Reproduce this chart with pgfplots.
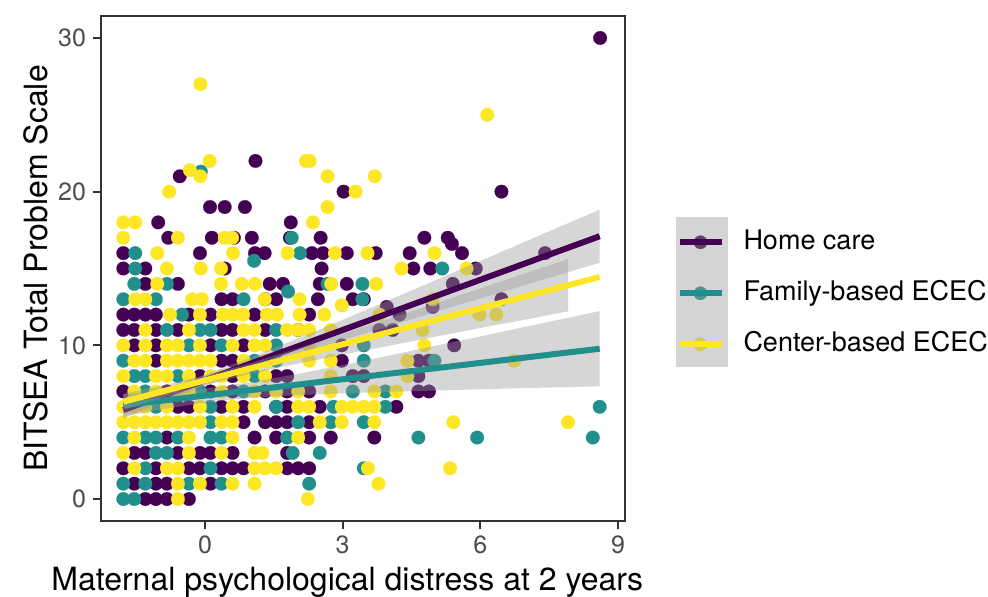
\documentclass[border=0pt]{standalone}
\usepackage{fontspec}
\setmainfont{TeX Gyre Heros}
\usepackage{pgfplots}
\pgfplotsset{compat=1.18}
\definecolor{hc}{HTML}{440154}
\definecolor{fb}{HTML}{21908C}
\definecolor{cb}{HTML}{FDE725}
\definecolor{hcl}{HTML}{663E70}
\definecolor{fbl}{HTML}{519491}
\definecolor{cbl}{HTML}{D5C853}
\definecolor{grey20}{HTML}{333333}
\definecolor{grey30}{HTML}{4D4D4D}
\definecolor{keybg}{HTML}{D4D4D4}
\definecolor{band}{HTML}{999999}
\begin{document}
\begin{tikzpicture}
\begin{axis}[
  scale only axis, width=262pt, height=252.5pt,
  xmin=-2.266, xmax=9.152, ymin=-1.43, ymax=31.43,
  xtick={0,3,6,9}, ytick={0,10,20,30},
  xtick pos=left, ytick pos=left,
  tick align=outside, major tick length=4pt,
  tick style={color=grey20, line width=0.9pt},
  axis line style={grey20, line width=0.9pt},
  ticklabel style={font=\fontsize{12.5}{14}\selectfont, text=grey30},
  /pgf/number format/assume math mode=true,
  xlabel={Maternal psychological distress at 2 years},
  ylabel={BITSEA Total Problem Scale},
  every axis x label/.style={at={(axis description cs:0.47,-0.137)}, anchor=base, font=\fontsize{16}{19}\selectfont},
  every axis y label/.style={at={(axis description cs:-0.101,0.5)}, rotate=90, anchor=south, inner sep=0pt, font=\fontsize{16}{19}\selectfont},
  clip=false,
  clip marker paths=true,
  legend style={at={(axis description cs:1.0975,0.451)}, anchor=west, draw=none, fill=none,
    inner sep=0pt, row sep=13.5pt, column sep=9.5pt, font=\fontsize{13.5}{16}\selectfont,
    nodes={inner sep=0pt, text height=9.5pt, text depth=2.5pt}},
  legend cell align=left,
]
% legend key background
\fill[keybg] (axis description cs:1.0973,0.305) rectangle (axis description cs:1.1966,0.602);

% Home care points
\addplot[only marks, mark=*, mark size=3.4pt, mark options={fill=hc, draw=hc, line width=0.1pt}, forget plot] coordinates {
(-1.30,0)(-1.07,0)(-0.83,0)(-0.35,0)
(-1.54,1)(-1.07,1)(-0.83,1)(0.12,1)
(-1.78,2)(-1.07,2)(-0.35,2)(-0.11,2)(0.36,2)(0.60,2)(0.84,2)(1.79,2)(2.03,2)(2.27,2)
(-1.54,3)(-1.30,3)(-0.59,3)(-0.11,3)(0.12,3)(0.60,3)(1.79,3)
(-0.83,4)(1.08,4)(1.55,4)(2.27,4)(2.74,4)(3.69,4)
(0.84,5)(1.31,5)(1.55,5)(1.79,5)(2.27,5)
(-0.59,6)(-0.35,6)(0.36,6)(0.84,6)(1.55,6)(1.79,6)(2.50,6)(4.17,6)
(-1.78,7)(-0.83,7)(0.12,7)(0.60,7)(1.31,7)(1.79,7)(2.27,7)(4.65,7)(4.88,7)
(-0.11,8)(0.60,8)(1.55,8)(1.79,8)(3.22,8)(3.46,8)(4.65,8)
(-1.07,9)(0.36,9)(0.60,9)(2.98,9)(4.65,9)(4.88,9)
(-1.54,10)(-1.07,10)(0.12,10)(0.84,10)(2.98,10)(5.43,10)
(-1.78,11)(-1.54,11)(-1.07,11)(-0.59,11)(0.36,11)(0.60,11)(1.31,11)(2.03,11)(3.80,11)(4.09,11)
(-1.78,12)(-1.54,12)(-1.30,12)(-1.07,12)(-0.35,12)(0.12,12)(1.08,12)(2.27,12)(4.24,12)(3.96,12.5)(4.96,12.5)
(0.36,13)(0.60,13)(1.31,13)(1.55,13)(2.46,13)(3.22,13)(3.46,13)(6.46,13)
(-1.30,14)(-0.59,14)(1.41,14)(1.70,14)(2.50,14)(3.09,14)(5.40,14)
(-1.78,15)(-1.30,15)(0.43,15)(2.54,15)(4.54,15)(4.91,15)(5.90,15)
(-1.78,16)(-0.11,16)(1.09,16)(1.30,16)(2.33,16)(2.57,16)(3.09,16)(3.72,16)(4.46,16)(5.60,16)(7.41,16)
(5.38,16.6)
(-0.80,17)(0.15,17)(0.63,17)(1.02,17)(1.85,17)(2.52,17)(4.78,17)(5.29,17)
(-1.02,18)(1.87,18)
(0.11,19)(0.43,19)(0.87,19)
(3.02,20)(6.46,20)
(-0.55,21)
(1.10,22)
(8.61,30)
};
% Family-based points
\addplot[only marks, mark=*, mark size=3.4pt, mark options={fill=fb, draw=fb, line width=0.1pt}, forget plot] coordinates {
(-1.78,0)(-1.54,0)
(-1.78,1)(-1.30,1)(-0.35,1)(0.36,1)(2.27,1)
(-1.30,2)(0.12,2)(3.46,2)
(-1.07,3)(-0.83,3)(1.91,3)(2.50,3)
(-1.78,4)(-1.30,4)(-1.07,4)(-0.59,4)(0.12,4)(0.36,4)(1.79,4)(4.65,4)(5.93,4)(8.45,4)
(0.12,5)(2.03,5)(2.74,5)(3.46,5)
(-1.07,6)(0.12,6)(1.55,6)(2.80,6)(3.93,6)(8.60,6)
(-1.30,7)(-0.11,7)(0.84,7)(3.22,7)(3.93,7)
(-1.54,8)(-1.30,8)(-0.59,8)(1.08,8)
(-1.78,9)(1.08,9)(1.55,9)(3.46,9)(5.00,9)
(-0.35,10)(0.36,10)(1.55,10)(3.46,10)
(-0.83,11)(-0.11,11)(0.12,11)(1.55,11)
(-0.50,12)
(-1.78,13)(-1.07,13)(0.84,13)(3.43,13)
(1.81,13.5)
(-1.54,14)(-0.83,14)(2.67,14)(3.43,14)
(-1.52,15)(5.17,15)
(1.07,15.5)
(-1.52,16)(2.07,16)
(1.89,17)
(-0.09,21.3)
};
% Center-based points
\addplot[only marks, mark=*, mark size=3.4pt, mark options={fill=cb, draw=cb, line width=0.1pt}, forget plot] coordinates {
(-0.59,0)(2.24,0)
(-0.59,1)(-0.11,1)(0.60,1)(1.08,1)(3.78,1)
(-1.54,2)(-0.83,2)(-0.59,2)(1.08,2)(1.31,2)(1.55,2)(3.55,2)(5.34,2)
(-1.78,3)(-0.35,3)(0.36,3)(1.08,3)(1.25,3)
(-1.54,4)(-0.35,4)(0.60,4)(2.03,4)
(-1.78,5)(-1.54,5)(-1.30,5)(-1.07,5)(-0.83,5)(-0.59,5)(-0.35,5)(-0.11,5)(0.36,5)(0.60,5)(2.50,5)(2.98,5)(3.69,5)(5.41,5)(7.91,5)
(-1.78,6)(-1.54,6)(-1.30,6)(-0.83,6)(-0.11,6)(0.60,6)(1.08,6)(2.03,6)(2.27,6)(2.98,6)(3.22,6)(3.46,6)(3.69,6)
(-1.54,7)(-1.07,7)(-0.59,7)(-0.35,7)(0.36,7)(1.08,7)(1.55,7)(2.03,7)(2.74,7)(3.69,7)(4.17,7)
(-1.78,8)(-1.07,8)(-0.83,8)(-0.35,8)(0.12,8)(0.36,8)(0.84,8)(1.31,8)(2.74,8)(4.41,8)
(-1.54,9)(-1.30,9)(-0.83,9)(-0.59,9)(-0.35,9)(-0.11,9)(0.12,9)(0.84,9)(1.31,9)(2.27,9)(2.74,9)(4.41,9)(6.74,9)
(-1.78,10)(-1.30,10)(-0.83,10)(-0.59,10)(-0.11,10)(0.60,10)(1.08,10)(1.31,10)(2.27,10)(4.78,10)
(-1.30,11)(-0.35,11)(0.84,11)(1.08,11)(1.79,11)(2.03,11)(2.27,11)(2.74,11)(4.74,11)
(-0.76,12)(-0.11,12)(0.39,12)(0.61,12)(0.83,12)(1.35,12)(1.57,12)(2.06,12)(2.60,12)(3.80,12)(5.98,12)(6.35,12)
(2.98,12.6)
(-1.52,13)(-1.30,13)(-0.28,13)(-0.07,13)(1.30,13)(2.06,13)(4.96,13)
(-1.04,14)(0.35,14)(0.80,14)(1.09,14)(2.75,14)(3.73,14)
(-0.83,15)(-0.09,15)(0.35,15)(4.28,15)(5.70,15)
(-1.04,16)(0.61,16)(1.80,16)(2.83,16)(3.54,16)(5.00,16)
(-1.78,17)(-0.59,17)(0.43,17)(0.59,17)
(-1.78,18)(-1.52,18)(2.35,18)
(2.67,19)
(-0.78,20)(3.28,20)
(-0.10,21)(2.67,21)(3.70,21)(-0.33,21.4)
(0.10,22)(2.28,22)(2.20,22)
(6.15,25)
(-0.10,27)
};

% Home care: band then line
\addplot[draw=none, fill=band, fill opacity=0.4, forget plot] coordinates {
(-1.78,6.32)(-1,7.07)(0,8.08)(1,9.21)(2,10.41)(3,11.66)(4,12.93)(5,14.21)(6,15.49)(7,16.78)(8,18.06)(8.6,18.83)
(8.6,15.37)(8,14.84)(7,13.94)(6,13.05)(5,12.15)(4,11.25)(3,10.34)(2,9.41)(1,8.44)(0,7.38)(-1,6.21)(-1.78,5.26)
} -- cycle;
\addplot[hc, line width=3pt, forget plot] coordinates {(-1.78,5.79)(8.6,17.10)};
% Family-based: band then line
\addplot[draw=none, fill=band, fill opacity=0.4, forget plot] coordinates {
(-1.78,6.83)(-1,6.95)(0,7.18)(1,7.60)(2,8.13)(3,8.72)(4,9.33)(5,9.96)(6,10.58)(7,11.22)(8,11.85)(8.6,12.23)
(8.6,7.33)(8,7.29)(7,7.22)(6,7.14)(5,7.06)(4,6.97)(3,6.88)(2,6.76)(1,6.59)(0,6.28)(-1,5.81)(-1.78,5.38)
} -- cycle;
\addplot[fb, line width=3pt, forget plot] coordinates {(-1.78,6.10)(8.6,9.78)};
% Center-based: band then line
\addplot[draw=none, fill=band, fill opacity=0.4, forget plot] coordinates {
(-1.78,6.85)(-1,7.34)(0,8.02)(1,8.85)(2,9.78)(3,10.75)(4,11.73)(5,12.71)(6,13.71)(7,14.71)(7.91,15.61)
(7.91,12.21)(7,11.69)(6,11.13)(5,10.55)(4,9.97)(3,9.39)(2,8.80)(1,8.15)(0,7.42)(-1,6.54)(-1.78,5.81)
} -- cycle;
\addplot[cb, line width=3pt, forget plot] coordinates {(-1.78,6.33)(8.6,14.45)};

\addlegendimage{legend image code/.code={\fill[hcl] (10.5pt,0pt) circle (3.2pt); \draw[hc, line width=3pt] (0pt,0pt) -- (21pt,0pt);}}
\addlegendentry{Home care}
\addlegendimage{legend image code/.code={\fill[fbl] (10.5pt,0pt) circle (3.2pt); \draw[fb, line width=3pt] (0pt,0pt) -- (21pt,0pt);}}
\addlegendentry{Family-based ECEC}
\addlegendimage{legend image code/.code={\fill[cbl] (10.5pt,0pt) circle (3.2pt); \draw[cb, line width=3pt] (0pt,0pt) -- (21pt,0pt);}}
\addlegendentry{Center-based ECEC}
\end{axis}
\pgfresetboundingbox
\path (-50.5pt,-37.5pt) rectangle (443.5pt,260.5pt);
\end{tikzpicture}
\end{document}
